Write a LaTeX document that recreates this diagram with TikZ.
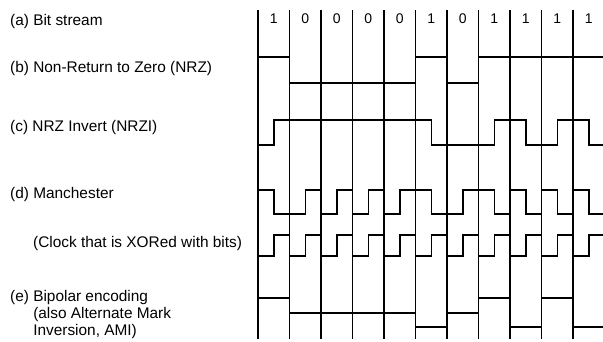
\documentclass[tikz,border=0pt]{standalone}
\usepackage{fontspec}
\setmainfont{Liberation Sans}
\usepackage{tikz}
\usetikzlibrary{positioning}

\begin{document}
\begin{tikzpicture}[
    x=1pt, y=-1pt,
    lbl/.style={inner sep=0pt, anchor=west, align=left, font={\fontsize{15.4}{17}\selectfont}},
    bitval/.style={inner sep=0pt, font={\fontsize{14}{14}\selectfont}},
    bitline/.style={line width=1.3pt},
    wave/.style={line width=1.5pt, line join=miter}
]
\useasboundingbox (0,0) rectangle (603,341);

% Labels
\node[lbl] (lbits) at (10,22) {(a) Bit stream};
\node[lbl] (lnrz) at (10,69) {(b) Non-Return to Zero (NRZ)};
\node[lbl] (lnrzi) at (10,128) {(c) NRZ Invert (NRZI)};
\node[lbl] (lmanch) at (10,195) {(d) Manchester};
\node[lbl] (lclock) at (33,244) {(Clock that is XORed with bits)};
\node[lbl, anchor=north west] (lami) at (10,290.5) {(e) Bipolar encoding\\
    \hphantom{(e) }(also Alternate Mark\\
    \hphantom{(e) }Inversion, AMI)};

\begin{scope}[xshift=258pt, x=31.5pt]
% Bit cells
\foreach \i in {0,...,10}
    \draw[bitline] (\i,10) -- (\i,339);
\foreach \b [count=\i from 0] in {1,0,0,0,0,1,0,1,1,1,1}
    \node[bitval] (bit\i) at (\i+0.5,18.5) {\b};

% NRZ
\draw[wave] (0,57) -| (1,83) -| (5,57) -| (6,83) -| (7,57) -- (10.96,57);

% NRZI
\draw[wave] (0,145) -| (0.5,120) -| (5.5,145) -| (7.5,120) -| (8.5,145)
    -| (9.5,120) -| (10.5,145) -- (10.96,145);

% Manchester
\draw[wave] (0,190) -| (0.5,214) -| (1.5,190) -| (2,214) -| (2.5,190) -| (3,214)
    -| (3.5,190) -| (4,214) -| (4.5,190) -| (5.5,214) -| (6.5,190) -| (7.5,214)
    -| (8,190) -| (8.5,214) -| (9,190) -| (9.5,214) -| (10,190) -| (10.5,214)
    -- (10.96,214);

% Clock
\draw[wave] (0,256) \foreach \i in {0,...,9} { -| (\i+0.5,235) -| (\i+1,256) }
    -| (10.5,235) -- (10.96,235);

% Bipolar (AMI)
\draw[wave] (0,298) -| (1,313) -| (5,327) -| (6,313) -| (7,298) -| (8,327)
    -| (9,298) -| (10,327) -- (10.96,327);
\end{scope}

\end{tikzpicture}
\end{document}
